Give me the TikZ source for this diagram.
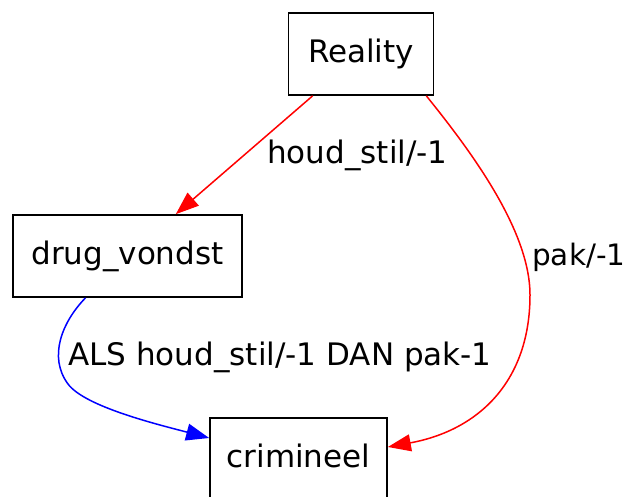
\documentclass[tikz,border=0pt]{standalone}
\usepackage{fontspec}
\setmainfont{DejaVu Sans}
\usetikzlibrary{arrows.meta,calc}
\tikzset{
  box/.style={draw=black, line width=1.7pt, rectangle, inner sep=0pt,
    text height=16pt, text depth=0pt, minimum height=82pt,
    font=\fontsize{31}{36}\selectfont},
  lbl/.style={inner sep=0pt, font=\fontsize{31}{36}\selectfont},
  redge/.style={draw=red, line width=1.5pt, -{Triangle[length=23pt,width=17pt]}},
  bedge/.style={draw=blue, line width=1.5pt, -{Triangle[length=23pt,width=17pt]}}
}
\begin{document}
\begin{tikzpicture}[x=1pt,y=-1pt]
\useasboundingbox (0,0) rectangle (626,496);
\node[box, minimum width=145pt] (reality) at (361,54) {Reality};
\node[box, minimum width=229pt] (drug) at (127.5,256) {drug\_vondst};
\node[box, minimum width=177pt] (crim) at (298.5,459) {crimineel};

\draw[redge] (reality) -- (drug);
\node[lbl, anchor=base] (l1) at (357.5,163) {houd\_stil/-1};

\draw[redge] ($(reality.south east)+(-8,0)$) .. controls (470,150) and (530,230) .. (530,295)
  .. controls (530,380) and (480,430) .. ($(crim.east)+(0,-12)$);
\node[lbl, anchor=base west, font=\fontsize{29.5}{34}\selectfont] (l2) at (532,265) {pak/-1};

\draw[bedge] ($(drug.south)+(-42,0)$) .. controls (62,322) and (48,357) .. (68,384)
  .. controls (85,407) and (160,425) .. ($(crim.west)+(0,-21)$);
\node[lbl, anchor=base] (l3) at (280,365) {ALS houd\_stil/-1 DAN pak-1};
\end{tikzpicture}
\end{document}
